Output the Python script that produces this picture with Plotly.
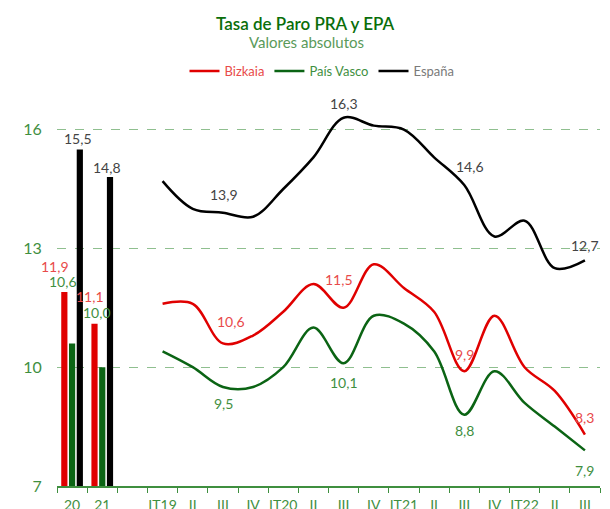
import plotly.graph_objects as go

categories = ["20", "21", "_gap",
              "IT19", "II_19", "III_19", "IV_19",
              "IT20", "II_20", "III_20", "IV_20",
              "IT21", "II_21", "III_21", "IV_21",
              "IT22", "II_22", "III_22"]
tick_labels = ["20", "21", "",
               "IT19", "II", "III", "IV",
               "IT20", "II", "III", "IV",
               "IT21", "II", "III", "IV",
               "IT22", "II", "III"]

bar_years = ["20", "21"]
bar_bizkaia = [11.9, 11.1]
bar_pv = [10.6, 10.0]
bar_espana = [15.5, 14.8]

quarters = categories[3:]
q_bizkaia = [11.6, 11.6, 10.6, 10.8, 11.4, 12.1, 11.5, 12.6, 12.0, 11.4, 9.9, 11.3, 10.0, 9.4, 8.3]
q_pv = [10.4, 10.0, 9.5, 9.5, 10.0, 11.0, 10.1, 11.3, 11.1, 10.4, 8.8, 9.9, 9.1, 8.5, 7.9]
q_espana = [14.7, 14.0, 13.9, 13.8, 14.5, 15.3, 16.3, 16.1, 16.0, 15.3, 14.6, 13.3, 13.7, 12.5, 12.7]

labeled = ["III_19", "III_20", "III_21", "III_22"]

# label offsets (px, dx right / dy up) -- styling only
bar_label_shift = {"Bizkaia": [(-17, 25), (-12, 27)],
                   "País Vasco": [(-9, 62), (-5, 55)],
                   "España": [(6, 11), (5, 10)]}
line_label_shift = {"Bizkaia": [(8, 22), (-5, 28), (0, 17), (0, 17)],
                    "País Vasco": [(1, -16), (0, -19), (0, -16), (0, -20)],
                    "España": [(1, 18), (0, 14), (6, 19), (0, 15)]}

RED = "#e00000"
GREEN = "#0b6414"
BLACK = "#000000"
RED_T = "#e84a4a"
GREEN_T = "#3f8f3f"
GRAY_T = "#444444"
LEG_GRAY = "#7a7a7a"
FONT = "Lato"

# the page body adds an 8px margin, so the figure is 8px smaller than the window
OFF = 8
W, H = 610 - OFF, 509 - OFF
L, R, T, B = 57 - OFF, 10, 90 - OFF, 509 - 486
PW, PH = W - L - R, H - T - B


def fmt(v):
    return f"{v:.1f}".replace(".", ",")


def px2paper(px, py):
    # px, py are window pixel coords
    return (px - OFF - L) / PW, (H - B - (py - OFF)) / PH


fig = go.Figure()
annotations = []

bar_series = [("Bizkaia", bar_bizkaia, RED, RED_T),
              ("País Vasco", bar_pv, GREEN, GREEN_T),
              ("España", bar_espana, BLACK, GRAY_T)]
for name, vals, col, tcol in bar_series:
    fig.add_trace(go.Bar(x=bar_years, y=vals, marker=dict(color=col, line=dict(width=0)),
                         showlegend=False, hoverinfo="skip"))
    for yr, v, (dx, dy) in zip(bar_years, vals, bar_label_shift[name]):
        annotations.append(dict(x=categories.index(yr), y=v, xref="x", yref="y",
                                text=fmt(v), showarrow=False,
                                xshift=dx, yshift=dy, xanchor="center", yanchor="middle",
                                font=dict(color=tcol, size=14, family=FONT)))

line_series = [("Bizkaia", q_bizkaia, RED, RED_T, RED_T),
               ("País Vasco", q_pv, GREEN, GREEN_T, GREEN_T),
               ("España", q_espana, BLACK, GRAY_T, LEG_GRAY)]
for name, vals, col, tcol, lcol in line_series:
    fig.add_trace(go.Scatter(x=quarters, y=vals, mode="lines",
                             line=dict(color=col, width=2.5, shape="spline", smoothing=1),
                             name=f"<span style='color:{lcol}'>{name}</span>",
                             cliponaxis=False, hoverinfo="skip"))
    for key, (dx, dy) in zip(labeled, line_label_shift[name]):
        v = vals[quarters.index(key)]
        annotations.append(dict(x=categories.index(key), y=v, xref="x", yref="y",
                                text=fmt(v), showarrow=False,
                                xshift=dx, yshift=dy, xanchor="center", yanchor="middle",
                                font=dict(color=tcol, size=14, family=FONT)))

tx, ty = px2paper(305, 24)
sx, sy = px2paper(306, 42)
annotations += [
    dict(text="Tasa de Paro PRA y EPA", x=tx, y=ty, xref="paper", yref="paper",
         xanchor="center", yanchor="middle", showarrow=False,
         font=dict(color="#0a6e0a", size=17, family=FONT, weight=600)),
    dict(text="Valores absolutos", x=sx, y=sy, xref="paper", yref="paper",
         xanchor="center", yanchor="middle", showarrow=False,
         font=dict(color="#5a9a5a", size=15, family=FONT)),
]
lx, ly = px2paper(322, 71)

fig.update_layout(
    width=W, height=H,
    margin=dict(l=L, r=R, t=T, b=B, autoexpand=False),
    paper_bgcolor="white", plot_bgcolor="white",
    font=dict(family=FONT, size=13),
    barmode="group", bargap=0.23, bargroupgap=0.2,
    showlegend=True,
    legend=dict(orientation="h", x=lx, xanchor="center", y=ly, yanchor="middle",
                font=dict(size=13, family=FONT), itemwidth=30, bgcolor="rgba(0,0,0,0)"),
    xaxis=dict(type="category", categoryorder="array", categoryarray=categories,
               tickmode="array", tickvals=categories, ticktext=tick_labels,
               tickson="boundaries", ticks="outside", ticklen=5, tickcolor=GREEN_T,
               tickangle=0, automargin=False, ticklabelstandoff=5,
               showline=True, linecolor=GREEN_T, linewidth=1.5,
               showgrid=False, tickfont=dict(color=GREEN_T, size=14, family=FONT),
               range=[-0.5, 17.5]),
    yaxis=dict(range=[7, 17], tickvals=[7, 10, 13, 16], showgrid=True,
               gridcolor="#8fbf8f", griddash="dash", gridwidth=1,
               zeroline=False, showline=False, automargin=False,
               ticks="outside", ticklen=11, tickcolor="rgba(0,0,0,0)",
               tickfont=dict(color=GREEN_T, size=16, family=FONT)),
    annotations=annotations,
)

fig.write_html("out.html")
